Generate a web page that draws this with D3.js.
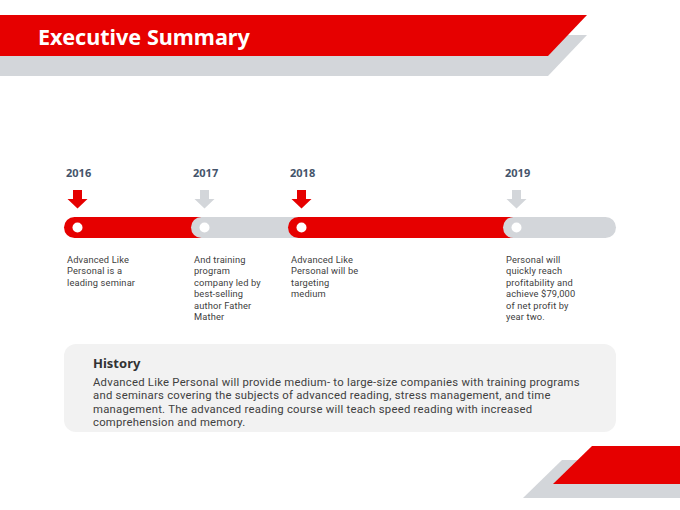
<!DOCTYPE html>
<html>
<head>
<meta charset="utf-8">
<script src="https://cdn.jsdelivr.net/npm/d3@7"></script>
<style>
  body { margin: 0; background: #fff; }
  svg { display: block; }
</style>
</head>
<body>
<script>
var w = 680;
var h = 510;

// Timeline data
var years = ["2016", "2017", "2018", "2019"];
var status = ["done", "todo", "done", "todo"]; // red = done, gray = todo
var notes = [
  ["Advanced Like", "Personal is a", "leading seminar"],
  ["And training", "program", "company led by", "best-selling", "author Father", "Mather"],
  ["Advanced Like", "Personal will be", "targeting", "medium"],
  ["Personal will", "quickly reach", "profitability  and", "achieve $79,000", "of net profit by", "year two."]
];
var historyTitle = "History";
var historyLines = [
  "Advanced Like Personal will provide medium- to large-size companies with training programs",
  "and seminars covering the subjects of advanced reading, stress management, and time",
  "management. The advanced reading course will teach speed reading with increased",
  "comprehension and memory."
];

var red = "#e60000";
var gray = "#d3d6da";

// Milestone positions along the bar (hand-laid in the original)
var xScale = d3.scaleOrdinal()
    .domain(years)
    .range([64, 191, 288, 503]);
var barEnd = 616;
var barY = 217;
var barH = 21;

var color = d3.scaleOrdinal()
    .domain(["done", "todo"])
    .range([red, gray]);

var svg = d3.select("body")
    .append("svg")
    .attr("width", w)
    .attr("height", h);

// Header bands
svg.append("path")
    .attr("d", "M0,35 L587,35 L548,76 L0,76 Z")
    .attr("fill", gray);
svg.append("path")
    .attr("d", "M0,15 L587,15 L548,56 L0,56 Z")
    .attr("fill", red);
svg.append("text")
    .attr("x", 38)
    .attr("y", 45)
    .attr("fill", "#fff")
    .attr("font-family", "'Noto Sans', sans-serif")
    .attr("font-weight", "bold")
    .attr("font-size", 21.6)
    .text("Executive Summary");

// Bottom-right bands
svg.append("path")
    .attr("d", "M562,460 L680,460 L680,498 L523,498 Z")
    .attr("fill", gray);
svg.append("path")
    .attr("d", "M592,446 L680,446 L680,484 L553,484 Z")
    .attr("fill", red);

// Timeline segments (each pill overlaps the previous one's end)
var segs = svg.append("g").attr("class", "segments");
years.forEach(function(y, i) {
    var x0 = xScale(y);
    var x1 = i < years.length - 1 ? xScale(years[i + 1]) + barH : barEnd;
    segs.append("rect")
        .attr("x", x0)
        .attr("y", barY)
        .attr("width", x1 - x0)
        .attr("height", barH)
        .attr("rx", barH / 2)
        .attr("fill", color(status[i]));
});

var ms = svg.selectAll(".milestone")
    .data(years)
    .join("g")
    .attr("class", "milestone")
    .attr("transform", function(d) { return "translate(" + (xScale(d) + 13.5) + ",0)"; });

// white dot
ms.append("circle")
    .attr("cy", barY + barH / 2)
    .attr("r", 5)
    .attr("fill", "#fff");

// down arrow
ms.append("path")
    .attr("d", "M-4.5,190 L4.5,190 L4.5,199 L10,199 L0,208.5 L-10,199 L-4.5,199 Z")
    .attr("fill", function(d, i) { return color(status[i]); });

// year label
ms.append("text")
    .attr("x", -11.5)
    .attr("y", 177)
    .attr("fill", "#44546a")
    .attr("font-family", "'Noto Sans', sans-serif")
    .attr("font-weight", "bold")
    .attr("font-size", 11)
    .text(function(d) { return d; });

// description
ms.append("text")
    .attr("x", -10.5)
    .attr("y", 263)
    .attr("fill", "#404040")
    .attr("font-family", "Roboto, sans-serif")
    .attr("font-size", 9.3)
    .attr("letter-spacing", 0.15)
    .selectAll("tspan")
    .data(function(d, i) { return notes[i]; })
    .join("tspan")
    .attr("x", -10.5)
    .attr("dy", function(d, j) { return j === 0 ? 0 : 11.4; })
    .text(function(d) { return d; });

// History box
svg.append("rect")
    .attr("x", 64)
    .attr("y", 344)
    .attr("width", 552)
    .attr("height", 88)
    .attr("rx", 12)
    .attr("fill", "#f2f2f2");

svg.append("text")
    .attr("x", 93)
    .attr("y", 368)
    .attr("fill", "#333")
    .attr("font-family", "'Noto Sans', sans-serif")
    .attr("font-weight", "bold")
    .attr("font-size", 13)
    .text(historyTitle);

svg.append("text")
    .attr("fill", "#404040")
    .attr("font-family", "Roboto, sans-serif")
    .attr("font-size", 11.3)
    .attr("letter-spacing", 0.25)
    .selectAll("tspan")
    .data(historyLines)
    .join("tspan")
    .attr("x", 93)
    .attr("y", function(d, i) { return 386 + i * 13.4; })
    .text(function(d) { return d; });
</script>
</body>
</html>
